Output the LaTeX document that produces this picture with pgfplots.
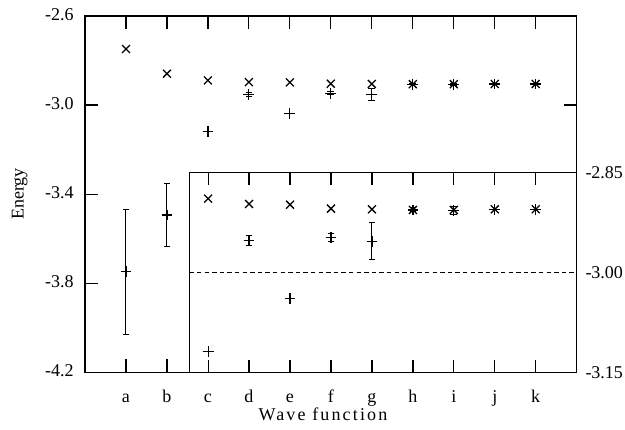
\documentclass[border=0pt]{standalone}
\usepackage{fontspec}
\setmainfont{Liberation Serif}
\usepackage{pgfplots}
\usepackage{pgfplotstable}
\pgfplotsset{compat=1.18}

% x: wave function index, X: cross values, P: plus values with error Pe
\pgfplotstableread{
x   X       P       Pe
1   -2.748  -3.749  0.280
2   -2.859  -3.494  0.143
3   -2.889  -3.119  0.000
4   -2.897  -2.952  0.008
5   -2.898  -3.039  0.000
6   -2.904  -2.947  0.006
7   -2.905  -2.953  0.028
8   -2.906  -2.906  0.003
9   -2.906  -2.907  0.006
10  -2.905  -2.905  0.000
11  -2.905  -2.905  0.000
}\energy

\pgfplotsset{
  crossmark/.style={only marks, mark=x, mark size=2.8bp, black, mark options={line width=0.65bp}},
  plusmark/.style={only marks, mark=+, mark size=2.7bp, black, mark options={line width=0.6bp},
    error bars/.cd, y dir=both, y explicit,
    error bar style={line width=0.5bp},
    error mark options={rotate=90, mark size=1.7bp, line width=0.5bp}},
}

\begin{document}
\fontsize{9bp}{11bp}\selectfont
\begin{tikzpicture}
\path[use as bounding box] (-42.5bp,-28.85bp) rectangle (270bp,186.15bp);

\begin{axis}[
    name=main,
    scale only axis,
    at={(0,0)}, anchor=south west,
    width=245.85bp, height=178.15bp,
    xmin=0, xmax=12,
    ymin=-4.2, ymax=-2.6,
    axis line style={line width=0.6bp},
    tick align=inside,
    tick style={black, line width=0.6bp},
    xtick={1,2,3,4,5,6,7,8,9,10,11},
    xticklabels={a,b,c,d,e,f,g,h,i,j,k},
    ytick={-4.2,-3.8,-3.4,-3.0,-2.6},
    yticklabels={-4.2,-3.8,-3.4,-3.0,-2.6},
    major tick length=6.5bp,
    typeset ticklabels with strut,
    xticklabel style={yshift=-4bp},
    yticklabel style={anchor=east, inner sep=0pt, xshift=-5.5bp},
    xlabel={\addfontfeature{LetterSpace=12}Wave function},
    xlabel style={at={(axis description cs:0.484,0)}, anchor=center, yshift=-21bp},
    ylabel={Energy},
    ylabel style={at={(axis description cs:0,0.5)}, anchor=center, yshift=32.7bp},
]
\addplot[crossmark] table[x=x, y=X] {\energy};
\addplot[plusmark] table[x=x, y=P, y error=Pe] {\energy};
% short category tick marks, bottom and top (length in data units)
\pgfplotsinvokeforeach{1,...,11}{
  \draw[black, line width=0.6bp] (axis cs:#1,-4.2) -- (axis cs:#1,-4.142);
  \draw[black, line width=0.6bp] (axis cs:#1,-2.6) -- (axis cs:#1,-2.658);
}
\end{axis}

\begin{axis}[
    scale only axis,
    at={(main.south east)}, anchor=south east,
    width=193.7bp, height=99.8bp,
    xmin=2.54, xmax=12,
    ymin=-3.15, ymax=-2.85,
    axis line style={line width=0.6bp},
    axis background/.style={fill=white},
    tick align=inside,
    xtick style={black, line width=0.6bp},
    xtick={3,4,5,6,7,8,9,10,11},
    xticklabels={},
    ytick={-3.15,-3.00,-2.85},
    yticklabels={-3.15,-3.00,-2.85},
    yticklabel pos=right,
    ytick style={draw=none},
    major tick length=6bp,
    yticklabel style={anchor=west, inner sep=0pt, xshift=4.2bp},
]
\addplot[black, line width=0.5bp, dash pattern=on 2.2bp off 1.6bp] coordinates {(2.54,-3.00) (12,-3.00)};
\addplot[restrict x to domain=3:11, crossmark] table[x=x, y=X] {\energy};
\addplot[restrict x to domain=3:11, plusmark] table[x=x, y=P, y error=Pe] {\energy};
\pgfplotsinvokeforeach{3,...,11}{
  \draw[black, line width=0.6bp] (axis cs:#1,-3.15) -- (axis cs:#1,-3.132);
  \draw[black, line width=0.6bp] (axis cs:#1,-2.85) -- (axis cs:#1,-2.868);
}
\end{axis}
\end{tikzpicture}
\end{document}
